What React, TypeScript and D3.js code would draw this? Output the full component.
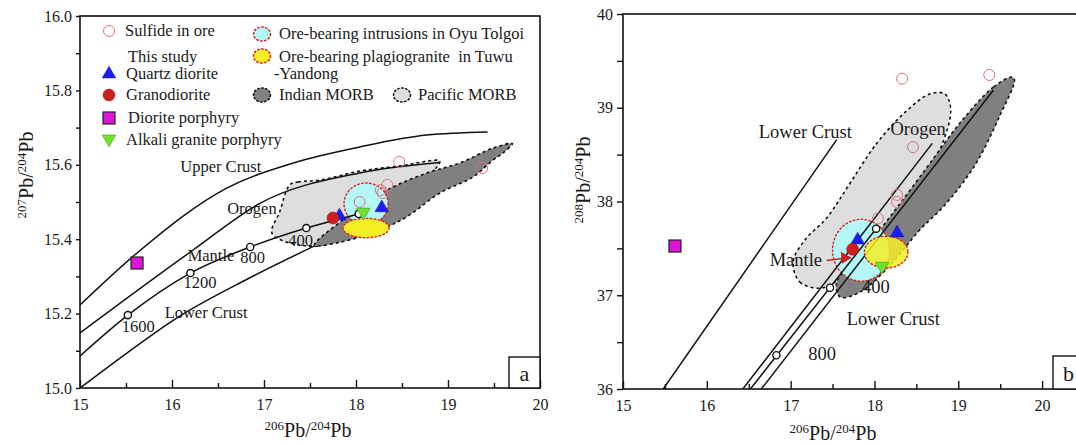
import React, { useRef, useEffect } from 'react';
import * as d3 from 'd3';

type Pt = [number, number];

// ---- panel a : 206Pb/204Pb vs 207Pb/204Pb ----
const upperCrustA: Pt[] = [[15, 15.223], [15.62, 15.363], [16.6, 15.538], [17.32, 15.605], [18.04, 15.648], [18.77, 15.68], [19.43, 15.688]];
const orogenA: Pt[] = [[15, 15.148], [16.23, 15.371], [16.96, 15.497], [18.04, 15.578], [18.91, 15.606]];
const mantleA: Pt[] = [[15, 15.086], [15.52, 15.196], [16.2, 15.309], [16.85, 15.379], [17.46, 15.43], [18.03, 15.468]];
const lowerCrustA: Pt[] = [[15, 15.0], [15.51, 15.094], [16.05, 15.188], [16.82, 15.293], [17.55, 15.382]];
const mantleAgesA: Pt[] = [[15.52, 15.196], [16.2, 15.309], [16.85, 15.379], [17.46, 15.43], [18.03, 15.468]];
const ageLabelsA = ['1600', '1200', '800', '400', ''];

const pacificA: Pt[] = [[17.28, 15.546], [17.37, 15.554], [17.61, 15.559], [18.04, 15.583], [18.48, 15.597], [18.91, 15.61], [18.83, 15.581], [18.48, 15.519], [17.93, 15.43], [17.59, 15.382], [17.09, 15.414], [17.17, 15.473]];
const indianA: Pt[] = [[17.55, 15.384], [17.86, 15.452], [18.34, 15.532], [18.77, 15.578], [19.13, 15.605], [19.49, 15.645], [19.7, 15.657], [19.6, 15.632], [19.49, 15.613], [19.27, 15.567], [18.91, 15.524], [18.55, 15.46], [18.26, 15.425], [17.83, 15.392]];
const oyuTolgoiA = [18.11, 15.495, 0.24, 0.056]; // cx, cy, rx, ry
const tuwuA = [18.11, 15.43, 0.25, 0.026];

const sulfideA: Pt[] = [[18.47, 15.608], [19.37, 15.591], [18.34, 15.546], [18.27, 15.532], [18.29, 15.524], [18.04, 15.5]];
const quartzDioriteA: Pt[] = [[17.82, 15.465], [18.28, 15.487]];
const granodioriteA: Pt[] = [[17.75, 15.457]];
const dioritePorphyryA: Pt[] = [[15.62, 15.336]];
const alkaliGraniteA: Pt[] = [[18.08, 15.47]];

// ---- panel b : 206Pb/204Pb vs 208Pb/204Pb ----
const lowerCrustB: Pt[] = [[15.48, 36.0], [17.55, 38.66]];
const orogenB: Pt[] = [[16.43, 36.0], [18.69, 38.62]];
const mantleB: Pt[] = [[16.52, 36.0], [18.02, 37.71]];
const upperCrustB: Pt[] = [[16.65, 36.0], [19.42, 39.19]];
const mantleAgesB: Pt[] = [[16.83, 36.36], [17.47, 37.08], [18.02, 37.71]];

const pacificB: Pt[] = [[17.03, 37.355], [17.11, 37.141], [17.37, 37.077], [17.71, 37.269], [18.07, 37.589], [18.48, 38.069], [18.78, 38.549], [18.91, 38.976], [18.84, 39.147], [18.66, 39.147], [18.37, 38.955], [18.03, 38.624], [17.71, 38.197], [17.43, 37.824], [17.17, 37.589]];
const indianB: Pt[] = [[19.64, 39.328], [19.42, 39.221], [19.02, 38.837], [18.63, 38.368], [18.22, 37.877], [17.83, 37.429], [17.55, 37.141], [17.59, 36.981], [17.83, 37.035], [18.19, 37.323], [18.54, 37.696], [18.84, 37.963], [19.2, 38.389], [19.5, 38.923], [19.67, 39.296]];
const oyuTolgoiB = [17.84, 37.48, 0.34, 0.33];
const tuwuB = [18.14, 37.46, 0.26, 0.17];

const sulfideB: Pt[] = [[18.33, 39.31], [19.37, 39.35], [18.46, 38.58], [18.27, 38.07], [18.27, 37.995], [18.04, 37.82]];
const quartzDioriteB: Pt[] = [[17.8, 37.6], [18.27, 37.675]];
const granodioriteB: Pt[] = [[17.74, 37.49]];
const dioritePorphyryB: Pt[] = [[15.62, 37.525]];
const alkaliGraniteB: Pt[] = [[18.09, 37.3]];
const mantleArrowB: Pt[] = [[17.43, 37.37], [17.73, 37.4]];

const FONT = '"Liberation Serif", "Times New Roman", serif';
const C = {
  sulfide: '#d8737b',
  blue: '#1c1cf5',
  red: '#cc1f1f',
  magenta: '#dc14dc',
  green: '#6fe22e',
  cyan: '#b4f7f7',
  yellow: '#f4ef24',
  dark: '#808080',
  light: '#dedede',
  dotRed: '#e02020'
};

const App = () => {
  const chartRef = useRef<SVGSVGElement>(null);

  useEffect(() => {
    const svg = d3.select(chartRef.current);
    svg.selectAll('*').remove();

    const xA = d3.scaleLinear().domain([15, 20]).range([80, 540]);
    const yA = d3.scaleLinear().domain([15, 16]).range([388, 16]);
    const xB = d3.scaleLinear().domain([15, 20.5]).range([623, 1084]);
    const yB = d3.scaleLinear().domain([36, 40]).range([389, 14]);

    const blob = (g: any, pts: Pt[], x: any, y: any, fill: string) => {
      g.append('path').datum(pts)
        .attr('d', d3.line<Pt>().x(d => x(d[0])).y(d => y(d[1])).curve(d3.curveCatmullRomClosed.alpha(0.5)))
        .attr('fill', fill).attr('stroke', '#111').attr('stroke-width', 1.6)
        .attr('stroke-dasharray', '3,3');
    };
    const oval = (g: any, e: number[], x: any, y: any, fill: string, opacity = 1) => {
      g.append('ellipse')
        .attr('cx', x(e[0])).attr('cy', y(e[1]))
        .attr('rx', x(e[0] + e[2]) - x(e[0])).attr('ry', y(e[1]) - y(e[1] + e[3]))
        .attr('fill', fill).attr('fill-opacity', opacity)
        .attr('stroke', C.dotRed).attr('stroke-width', 1.4)
        .attr('stroke-dasharray', '1.5,2.5').attr('stroke-linecap', 'round');
    };
    const curve = (g: any, pts: Pt[], x: any, y: any, smooth: boolean) => {
      g.append('path').datum(pts)
        .attr('d', d3.line<Pt>().x(d => x(d[0])).y(d => y(d[1])).curve(smooth ? d3.curveMonotoneX : d3.curveLinear))
        .attr('fill', 'none').attr('stroke', '#111').attr('stroke-width', 1.5);
    };
    const ageDots = (g: any, pts: Pt[], x: any, y: any) => {
      g.selectAll(null).data(pts).join('circle')
        .attr('cx', d => x(d[0])).attr('cy', d => y(d[1])).attr('r', 3.6)
        .attr('fill', '#fff').attr('stroke', '#111').attr('stroke-width', 1.4);
    };

    const triUp = d3.symbol().type(d3.symbolTriangle).size(80)();
    const markers = (g: any, x: any, y: any, sets: any) => {
      g.selectAll(null).data(sets.sulfide || []).join('circle')
        .attr('cx', (d: Pt) => x(d[0])).attr('cy', (d: Pt) => y(d[1])).attr('r', 5.5)
        .attr('fill', 'none').attr('stroke', C.sulfide).attr('stroke-width', 1);
      g.selectAll(null).data(sets.quartz || []).join('path')
        .attr('d', triUp).attr('transform', (d: Pt) => `translate(${x(d[0])},${y(d[1]) + 1})`)
        .attr('fill', C.blue).attr('stroke', '#1010a0').attr('stroke-width', 0.5);
      g.selectAll(null).data(sets.alkali || []).join('path')
        .attr('d', triUp).attr('transform', (d: Pt) => `translate(${x(d[0])},${y(d[1]) - 1}) rotate(180)`)
        .attr('fill', C.green).attr('stroke', '#3c9a10').attr('stroke-width', 0.6);
      g.selectAll(null).data(sets.grano || []).join('circle')
        .attr('cx', (d: Pt) => x(d[0])).attr('cy', (d: Pt) => y(d[1])).attr('r', 6)
        .attr('fill', C.red).attr('stroke', '#8a1010').attr('stroke-width', 0.5);
      g.selectAll(null).data(sets.diorite || []).join('rect')
        .attr('x', (d: Pt) => x(d[0]) - 6).attr('y', (d: Pt) => y(d[1]) - 6)
        .attr('width', 12).attr('height', 12)
        .attr('fill', C.magenta).attr('stroke', '#222').attr('stroke-width', 1.2);
    };

    const text = (g: any, s: string, px: number, py: number, size: number, anchor = 'start') =>
      g.append('text').attr('x', px).attr('y', py).attr('font-size', size)
        .attr('text-anchor', anchor).attr('font-family', FONT).attr('fill', '#1a1a1a').text(s);

    const axisLabel = (g: any, a: string, b: string, px: number, py: number, rotate: boolean) => {
      const t = g.append('text').attr('font-family', FONT).attr('fill', '#1a1a1a')
        .attr('text-anchor', 'middle').attr('font-size', 20)
        .attr('transform', rotate ? `translate(${px},${py}) rotate(-90)` : `translate(${px},${py})`);
      t.append('tspan').attr('font-size', 13).attr('dy', -7).text(a);
      t.append('tspan').attr('dy', 7).text('Pb/');
      t.append('tspan').attr('font-size', 13).attr('dy', -7).text(b);
      t.append('tspan').attr('dy', 7).text('Pb');
    };

    const axes = (g: any, x: any, y: any, xMaj: number[], xMin: number[], yMaj: number[], yMin: number[], yFmt: string, ySize: number) => {
      const h = y.range()[0];
      const l = x.range()[0];
      const bx1 = g.append('g').attr('transform', `translate(0,${h})`)
        .call(d3.axisBottom(x).tickValues(xMin).tickSize(-5).tickFormat(() => ''));
      const bx2 = g.append('g').attr('transform', `translate(0,${h})`)
        .call(d3.axisBottom(x).tickValues(xMaj).tickSize(-8).tickPadding(11).tickFormat(d3.format('d')));
      const by1 = g.append('g').attr('transform', `translate(${l},0)`)
        .call(d3.axisLeft(y).tickValues(yMin).tickSize(ySize).tickFormat(() => ''));
      const by2 = g.append('g').attr('transform', `translate(${l},0)`)
        .call(d3.axisLeft(y).tickValues(yMaj).tickSize(ySize).tickPadding(4).tickFormat(d3.format(yFmt)));
      [bx1, bx2, by1, by2].forEach(a => {
        a.select('.domain').remove();
        a.selectAll('line').attr('stroke', '#111').attr('stroke-width', 1.4);
        a.selectAll('text').attr('font-family', FONT).attr('font-size', 16).attr('fill', '#1a1a1a');
      });
      const [x0, x1] = x.range();
      const [y0, y1] = y.range();
      g.append('rect').attr('x', x0).attr('y', y1).attr('width', x1 - x0).attr('height', y0 - y1)
        .attr('fill', 'none').attr('stroke', '#111').attr('stroke-width', 1.6);
    };

    // ---------- panel a ----------
    const a = svg.append('g');
    const clipA = svg.append('clipPath').attr('id', 'clipA');
    clipA.append('rect').attr('x', 80).attr('y', 16).attr('width', 460).attr('height', 372);
    const pa = a.append('g').attr('clip-path', 'url(#clipA)');
    blob(pa, pacificA, xA, yA, C.light);
    blob(pa, indianA, xA, yA, C.dark);
    oval(pa, oyuTolgoiA, xA, yA, C.cyan);
    oval(pa, tuwuA, xA, yA, C.yellow);
    curve(pa, upperCrustA, xA, yA, true);
    curve(pa, orogenA, xA, yA, true);
    curve(pa, mantleA, xA, yA, true);
    curve(pa, lowerCrustA, xA, yA, true);
    ageDots(pa, mantleAgesA, xA, yA);
    markers(pa, xA, yA, { sulfide: sulfideA, quartz: quartzDioriteA, grano: granodioriteA, diorite: dioritePorphyryA, alkali: alkaliGraniteA });

    text(a, 'Upper Crust', xA(16.09), yA(15.581), 16.5);
    text(a, 'Orogen', xA(16.6), yA(15.468), 16.5);
    text(a, 'Mantle', xA(16.17), yA(15.341), 16.5);
    text(a, 'Lower Crust', xA(15.92), yA(15.188), 16.5);
    const ageOff = [[-6, 17], [-7, 15], [-10, 16], [-18, 18], [0, 0]];
    mantleAgesA.forEach((d, i) => {
      if (ageLabelsA[i]) text(a, ageLabelsA[i], xA(d[0]) + ageOff[i][0], yA(d[1]) + ageOff[i][1], 16.5);
    });

    axes(a, xA, yA, d3.range(15, 20.01, 1), d3.range(15.5, 20, 1),
      d3.range(15, 16.01, 0.2).map(v => +v.toFixed(1)), d3.range(15.1, 16, 0.2).map(v => +v.toFixed(1)), '.1f', 4);
    axisLabel(a, '206', '204', 308, 437, false);
    axisLabel(a, '207', '204', 33, 175, true);

    // legend
    const lg = a.append('g');
    const at = (cx: number, cy: number) => [(v: number) => cx + v, (v: number) => cy + v];
    const one: Pt[] = [[0, 0]];
    const [lx1, ly1] = at(109, 31); markers(lg, lx1, ly1, { sulfide: one });
    const [lx2, ly2] = at(109, 73); markers(lg, lx2, ly2, { quartz: one });
    const [lx3, ly3] = at(109, 95); markers(lg, lx3, ly3, { grano: one });
    const [lx4, ly4] = at(109, 118); markers(lg, lx4, ly4, { diorite: one });
    const [lx5, ly5] = at(109, 140); markers(lg, lx5, ly5, { alkali: one });
    text(lg, 'Sulfide in ore', 125, 36, 16.5);
    text(lg, 'This study', 128, 62, 16.5);
    text(lg, 'Quartz diorite', 126, 79, 16.5);
    text(lg, 'Granodiorite', 126, 100, 16.5);
    text(lg, 'Diorite porphyry', 128, 123, 16.5);
    text(lg, 'Alkali granite porphyry', 126, 145, 16.5);
    const icon = (px: number, py: number, fill: string, stroke: string) =>
      lg.append('ellipse').attr('cx', px).attr('cy', py).attr('rx', 8.5).attr('ry', 7)
        .attr('fill', fill).attr('stroke', stroke).attr('stroke-width', 1.5)
        .attr('stroke-dasharray', '1.5,2.5').attr('stroke-linecap', 'round');
    icon(262, 34, C.cyan, C.dotRed);
    icon(262, 56, C.yellow, C.dotRed);
    icon(262, 95, C.dark, '#111');
    icon(402, 95, C.light, '#111');
    text(lg, 'Ore-bearing intrusions in Oyu Tolgoi', 279, 39, 16.5);
    text(lg, 'Ore-bearing plagiogranite  in Tuwu', 279, 62, 16.5).attr('xml:space', 'preserve');
    text(lg, '-Yandong', 274, 79, 16.5);
    text(lg, 'Indian MORB', 279, 100, 16.5);
    text(lg, 'Pacific MORB', 418, 100, 16.5);

    a.append('rect').attr('x', 509).attr('y', 357).attr('width', 31).attr('height', 31)
      .attr('fill', '#fff').attr('stroke', '#111').attr('stroke-width', 1.4);
    text(a, 'a', 524.5, 381, 22, 'middle');

    // ---------- panel b ----------
    const b = svg.append('g');
    const clipB = svg.append('clipPath').attr('id', 'clipB');
    clipB.append('rect').attr('x', 623).attr('y', 14).attr('width', 461).attr('height', 375);
    const pb = b.append('g').attr('clip-path', 'url(#clipB)');
    blob(pb, pacificB, xB, yB, C.light);
    blob(pb, indianB, xB, yB, C.dark);
    oval(pb, oyuTolgoiB, xB, yB, C.cyan);
    curve(pb, lowerCrustB, xB, yB, false);
    curve(pb, orogenB, xB, yB, false);
    curve(pb, mantleB, xB, yB, false);
    curve(pb, upperCrustB, xB, yB, false);
    oval(pb, tuwuB, xB, yB, C.yellow, 0.85);
    ageDots(pb, mantleAgesB, xB, yB);
    markers(pb, xB, yB, { sulfide: sulfideB, quartz: quartzDioriteB, grano: granodioriteB, diorite: dioritePorphyryB, alkali: alkaliGraniteB });

    // red pointer from "Mantle"
    const [p0, p1] = mantleArrowB;
    pb.append('line').attr('x1', xB(p0[0])).attr('y1', yB(p0[1])).attr('x2', xB(p1[0]) - 8).attr('y2', yB(p1[1]) + 0.5)
      .attr('stroke', C.red).attr('stroke-width', 1.6);
    pb.append('path')
      .attr('d', `M${xB(p1[0])},${yB(p1[1])} l-11,-6 l1,12 z`)
      .attr('fill', C.red);

    text(b, 'Lower Crust', xB(16.62), yB(38.68), 18.5);
    text(b, 'Orogen', xB(18.19), yB(38.71), 18.5);
    text(b, 'Mantle', xB(16.75), yB(37.31), 18.5);
    text(b, '400', xB(17.85), yB(37.02), 18.5);
    text(b, 'Lower Crust', xB(17.67), yB(36.68), 18.5);
    text(b, '800', xB(17.21), yB(36.31), 18.5);

    axes(b, xB, yB, d3.range(15, 20.01, 1), d3.range(15.5, 20.6, 1),
      d3.range(36, 40.01, 1), d3.range(36.5, 40, 1), 'd', 6);
    axisLabel(b, '206', '204', 833, 440, false);
    axisLabel(b, '208', '204', 590, 180, true);

    b.append('rect').attr('x', 1053).attr('y', 356).attr('width', 31).attr('height', 33)
      .attr('fill', '#fff').attr('stroke', '#111').attr('stroke-width', 1.4);
    text(b, 'b', 1068.5, 381, 22, 'middle');
  }, []);

  return (
    <svg ref={chartRef} width={1076} height={446}
      style={{ position: 'absolute', left: 0, top: 0, background: '#fff' }} />
  );
};

export default App;
